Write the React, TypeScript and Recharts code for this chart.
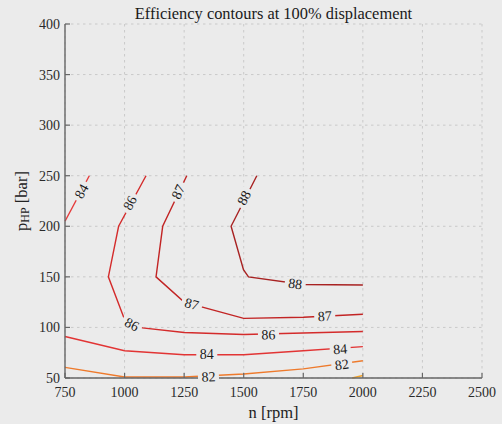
import React from "react";
import { CartesianGrid, Line, LineChart, XAxis, YAxis } from "recharts";

const W = 502;
const H = 424;
const MARGIN = { top: 24, right: 20, bottom: 0, left: 0 };
const Y_AXIS_W = 65;
const X_AXIS_H = 46;
const PLOT_W = W - MARGIN.right - Y_AXIS_W;
const PLOT_H = H - MARGIN.top - X_AXIS_H;

const N_DOMAIN: [number, number] = [750, 2500];
const P_DOMAIN: [number, number] = [50, 400];
const N_TICKS = [750, 1000, 1250, 1500, 1750, 2000, 2250, 2500];
const P_TICKS = [50, 100, 150, 200, 250, 300, 350, 400];

const BG = "#ebebeb";
const AXIS = "#666666";
const FONT = "'Liberation Serif', 'DejaVu Serif', serif";
const serif = { fontFamily: FONT };

// iso-efficiency lines, vertices as speed n [rpm] / pressure p [bar]
const C80 = [{ n: 1955, p: 50 }, { n: 2000, p: 52.5 }];
const C82 = [
  { n: 750, p: 60.5 }, { n: 1000, p: 51 }, { n: 1250, p: 51 },
  { n: 1500, p: 54 }, { n: 1750, p: 59 }, { n: 2000, p: 67 },
];
const C84_LOW = [
  { n: 750, p: 91 }, { n: 1000, p: 77 }, { n: 1250, p: 73 },
  { n: 1500, p: 73 }, { n: 1750, p: 77 }, { n: 2000, p: 81 },
];
const C84_HIGH = [{ n: 750, p: 205 }, { n: 852, p: 250 }];
const C86 = [
  { n: 1090, p: 250 }, { n: 975, p: 200 }, { n: 932, p: 150 }, { n: 998, p: 109 },
  { n: 1075, p: 99.5 }, { n: 1250, p: 95 }, { n: 1500, p: 93 }, { n: 1750, p: 94.5 },
  { n: 2000, p: 96 },
];
const C87 = [
  { n: 1261, p: 250 }, { n: 1160, p: 200 }, { n: 1132, p: 150 }, { n: 1250, p: 125 },
  { n: 1500, p: 109 }, { n: 1750, p: 110 }, { n: 2000, p: 113 },
];
const C88 = [
  { n: 1555, p: 250 }, { n: 1447, p: 200 }, { n: 1499, p: 157 }, { n: 1520, p: 150 },
  { n: 1750, p: 142.5 }, { n: 2000, p: 142 },
];

const CONTOURS = [
  { id: "80", level: 80, color: "#f2a228", points: C80 },
  { id: "82", level: 82, color: "#ee7a2c", points: C82 },
  { id: "84a", level: 84, color: "#e23434", points: C84_LOW },
  { id: "84b", level: 84, color: "#e63a3a", points: C84_HIGH },
  { id: "86", level: 86, color: "#d42b2b", points: C86 },
  { id: "87", level: 87, color: "#c22424", points: C87 },
  { id: "88", level: 88, color: "#a82222", points: C88 },
];

// inline contour labels
const LABELS = [
  { id: "84b", n: 820, p: 234.5 },
  { id: "86", n: 1023, p: 223 },
  { id: "87", n: 1226, p: 234 },
  { id: "88", n: 1502, p: 228 },
  { id: "88", n: 1716, p: 143 },
  { id: "87", n: 1282, p: 123 },
  { id: "87", n: 1840, p: 111 },
  { id: "86", n: 1030, p: 103 },
  { id: "86", n: 1604, p: 92.6 },
  { id: "84a", n: 1345, p: 72.8 },
  { id: "84a", n: 1905, p: 78.4 },
  { id: "82", n: 1352, p: 51 },
  { id: "82", n: 1912, p: 63 },
];

const KX = PLOT_W / (N_DOMAIN[1] - N_DOMAIN[0]);
const KY = PLOT_H / (P_DOMAIN[1] - P_DOMAIN[0]);

// rotation of the label: direction of the nearest contour segment
function labelAngle(id: string, n: number, p: number) {
  const c = CONTOURS.find((d) => d.id === id)!;
  const px = n * KX;
  const py = -p * KY;
  let best = Infinity;
  let ang = 0;
  for (let i = 0; i < c.points.length - 1; i++) {
    const ax = c.points[i].n * KX, ay = -c.points[i].p * KY;
    const bx = c.points[i + 1].n * KX, by = -c.points[i + 1].p * KY;
    const dx = bx - ax, dy = by - ay;
    const t = Math.max(0, Math.min(1, ((px - ax) * dx + (py - ay) * dy) / (dx * dx + dy * dy)));
    const d = Math.hypot(ax + t * dx - px, ay + t * dy - py);
    if (d < best) {
      best = d;
      ang = (Math.atan2(dy, dx) * 180) / Math.PI;
    }
  }
  if (ang > 90) ang -= 180;
  if (ang < -90) ang += 180;
  return ang;
}

function ContourLabel(props: any) {
  const { cx, cy, payload, index } = props;
  if (cx == null || cy == null) return <g key={index} />;
  const c = CONTOURS.find((d) => d.id === payload.id)!;
  const a = labelAngle(payload.id, payload.n, payload.p);
  return (
    <g key={index} transform={`translate(${cx},${cy}) rotate(${a})`}>
      <rect x={-10.5} y={-6} width={21} height={12} fill={BG} />
      <text
        textAnchor="middle"
        dominantBaseline="central"
        fontSize={14}
        style={serif}
        fill="#1a1a1a"
      >
        {c.level}
      </text>
    </g>
  );
}

function BottomTick({ x, y, payload }: any) {
  return (
    <g>
      <line x1={x} y1={y} x2={x} y2={y - 5} stroke={AXIS} strokeWidth={1.2} />
      <text x={x} y={y + 19} textAnchor="middle" fontSize={14} style={serif} fill="#2a2a2a">
        {payload.value}
      </text>
    </g>
  );
}

function TopTick({ x, y }: any) {
  return <line x1={x} y1={y} x2={x} y2={y + 5} stroke={AXIS} strokeWidth={1.2} />;
}

function LeftTick({ x, y, payload }: any) {
  return (
    <g>
      <line x1={x} y1={y} x2={x + 5} y2={y} stroke={AXIS} strokeWidth={1.2} />
      <text x={x - 5} y={y + 5} textAnchor="end" fontSize={14} style={serif} fill="#2a2a2a">
        {payload.value}
      </text>
    </g>
  );
}

function RightTick({ x, y }: any) {
  return <line x1={x} y1={y} x2={x - 5} y2={y} stroke={AXIS} strokeWidth={1.2} />;
}

function YLabel() {
  return (
    <text
      transform={`translate(21,${MARGIN.top + PLOT_H / 2}) rotate(-90)`}
      textAnchor="middle"
      dominantBaseline="central"
      fontSize={16.5}
      style={serif}
      fill="#222"
    >
      <tspan>p</tspan>
      <tspan fontSize={12} dy={4}>HP</tspan>
      <tspan dy={-4}> [bar]</tspan>
    </text>
  );
}

function XLabel() {
  return (
    <text
      x={Y_AXIS_W + PLOT_W / 2}
      y={418}
      textAnchor="middle"
      fontSize={16.5}
      style={serif}
      fill="#222"
    >
      n [rpm]
    </text>
  );
}

export default function App() {
  return (
    <div style={{ position: "fixed", left: 0, top: 0, width: W, height: H, background: BG }}>
      <div
        style={{
          position: "absolute",
          left: Y_AXIS_W,
          width: PLOT_W,
          top: 4,
          textAlign: "center",
          fontFamily: FONT,
          fontSize: 16.4,
          lineHeight: "19px",
          color: "#1a1a1a",
        }}
      >
        Efficiency contours at 100% displacement
      </div>
      <LineChart width={W} height={H} margin={MARGIN} style={serif}>
        <CartesianGrid stroke="#c9c9c9" strokeDasharray="2.5 3.5" strokeWidth={1} />
        <XAxis
          type="number"
          dataKey="n"
          domain={N_DOMAIN}
          ticks={N_TICKS}
          height={X_AXIS_H}
          tickSize={0}
          tickMargin={0}
          tickLine={false}
          axisLine={{ stroke: AXIS, strokeWidth: 1.4 }}
          tick={<BottomTick />}
          interval={0}
          label={<XLabel />}
        />
        <XAxis
          xAxisId="top"
          orientation="top"
          type="number"
          dataKey="n"
          domain={N_DOMAIN}
          ticks={N_TICKS}
          height={0}
          tickSize={0}
          tickMargin={0}
          tickLine={false}
          axisLine={{ stroke: AXIS, strokeWidth: 1.4 }}
          tick={<TopTick />}
          interval={0}
        />
        <YAxis
          type="number"
          domain={P_DOMAIN}
          ticks={P_TICKS}
          width={Y_AXIS_W}
          tickSize={0}
          tickMargin={0}
          tickLine={false}
          axisLine={{ stroke: AXIS, strokeWidth: 1.4 }}
          tick={<LeftTick />}
          interval={0}
          label={<YLabel />}
        />
        <YAxis
          yAxisId="right"
          orientation="right"
          type="number"
          domain={P_DOMAIN}
          ticks={P_TICKS}
          width={0}
          tickSize={0}
          tickMargin={0}
          tickLine={false}
          axisLine={{ stroke: AXIS, strokeWidth: 1.4 }}
          tick={<RightTick />}
          interval={0}
        />
        {CONTOURS.map((c) => (
          <Line
            key={c.id}
            data={c.points}
            dataKey="p"
            type="linear"
            stroke={c.color}
            strokeWidth={1.4}
            dot={false}
            activeDot={false}
            isAnimationActive={false}
          />
        ))}
        <Line
          data={LABELS}
          dataKey="p"
          stroke="none"
          dot={(props: any) => <ContourLabel {...props} />}
          activeDot={false}
          isAnimationActive={false}
        />
      </LineChart>
    </div>
  );
}
